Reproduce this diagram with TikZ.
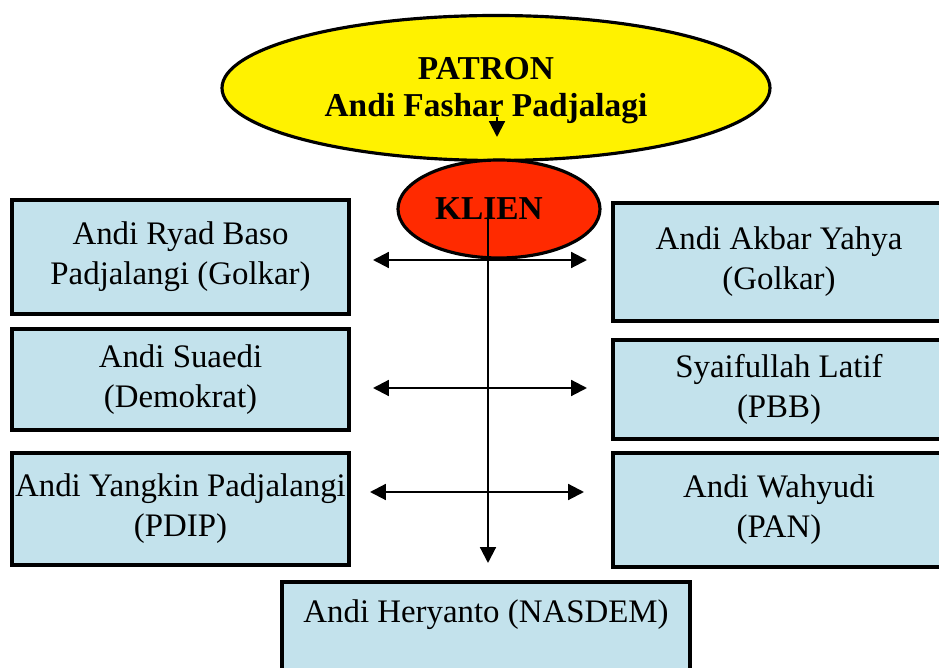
\documentclass[tikz,border=0pt]{standalone}
\usepackage{fontspec}
\setmainfont{Liberation Serif}
\usepackage{tikz}
\usetikzlibrary{positioning}
\usetikzlibrary{shapes.geometric}
\usetikzlibrary{arrows.meta}

\definecolor{boxblue}{RGB}{195,226,236}
\definecolor{klienred}{RGB}{255,42,0}

\tikzset{
  partybox/.style={draw=black, line width=2.2pt, fill=boxblue, align=center,
    inner sep=0pt, font=\fontsize{18.7}{22.7}\selectfont},
  oval/.style={ellipse, draw=black, line width=1.8pt},
  ovaltext/.style={align=center, inner sep=0pt, font=\bfseries\fontsize{19}{21}\selectfont},
  tie/.style={line width=1.2pt, {Triangle[length=9pt,width=9pt]}-{Triangle[length=9pt,width=9pt]}},
  downarrow/.style={line width=1.2pt, -{Triangle[length=9pt,width=9pt]}}
}

\begin{document}
\begin{tikzpicture}
\useasboundingbox (0,0) rectangle (18.78,13.36);
\clip (0,0) rectangle (18.78,13.36);
% Patron
\node[oval, fill=yellow, minimum width=10.96cm, minimum height=2.90cm] (patron) at (9.92,11.60) {};
\node[ovaltext] (patronname) at (9.72,11.54) {PATRON\\Andi Fashar Padjalagi};
\coordinate (ptop) at (9.94,11.02);
\coordinate (pend) at (9.94,10.62);
\draw[downarrow] (ptop) -- (pend);
% Klien
\node[oval, fill=klienred, minimum width=4.04cm, minimum height=1.96cm] (klien) at (9.98,9.18) {};
\node[ovaltext] (klienname) at (9.78,9.18) {KLIEN};
% left column
\node[partybox, minimum width=6.74cm, minimum height=2.28cm] (ryad) at (3.61,8.22) {Andi Ryad Baso\\Padjalangi (Golkar)};
\node[partybox, minimum width=6.74cm, minimum height=2.02cm] (suaedi) at (3.61,5.77) {Andi Suaedi\\(Demokrat)};
\node[partybox, minimum width=6.74cm, minimum height=2.24cm] (yangkin) at (3.61,3.18) {Andi Yangkin Padjalangi\\(PDIP)};
% right column
\node[partybox, minimum width=6.64cm, minimum height=2.36cm] (akbar) at (15.58,8.12) {Andi Akbar Yahya\\(Golkar)};
\node[partybox, minimum width=6.64cm, minimum height=1.98cm] (syaiful) at (15.58,5.57) {Syaifullah Latif\\(PBB)};
\node[partybox, minimum width=6.64cm, minimum height=2.28cm] (wahyudi) at (15.58,3.16) {Andi Wahyudi\\(PAN)};
% bottom
\node[partybox, anchor=north, minimum width=8.16cm, text height=0.82cm, text depth=1.38cm] (heryanto) at (9.72,1.76) {Andi Heryanto (NASDEM)};
% links
\coordinate (l1) at (7.46,8.16);
\coordinate (r1) at (11.74,8.16);
\coordinate (l2) at (7.46,5.60);
\coordinate (r2) at (11.74,5.60);
\coordinate (l3) at (7.40,3.52);
\coordinate (r3) at (11.68,3.52);
\draw[tie] (l1) -- (r1);
\draw[tie] (l2) -- (r2);
\draw[tie] (l3) -- (r3);
\coordinate (ktop) at (9.76,9.00);
\coordinate (kend) at (9.76,2.10);
\draw[downarrow] (ktop) -- (kend);
\end{tikzpicture}
\end{document}
